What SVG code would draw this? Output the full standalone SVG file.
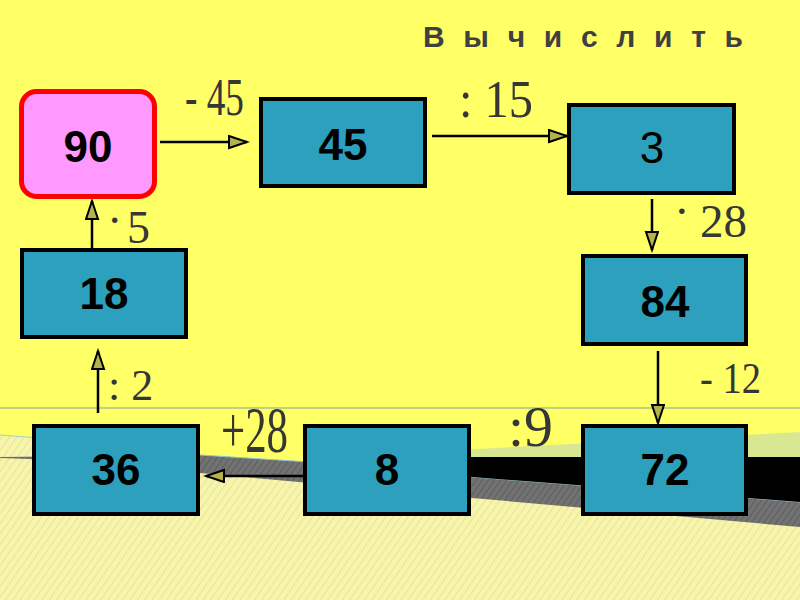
<svg xmlns="http://www.w3.org/2000/svg" width="800" height="600" viewBox="0 0 800 600">
<defs>
<pattern id="paleHatch" width="6" height="6" patternUnits="userSpaceOnUse" patternTransform="rotate(35)">
<rect width="6" height="6" fill="#F7F4AC"/>
<line x1="0" y1="0" x2="0" y2="6" stroke="#E6E29A" stroke-width="2"/>
</pattern>
<pattern id="grayHatch" width="5" height="5" patternUnits="userSpaceOnUse" patternTransform="rotate(35)">
<rect width="5" height="5" fill="#727272"/>
<line x1="0" y1="0" x2="0" y2="5" stroke="#5E5E5E" stroke-width="2"/>
</pattern>
<marker id="arr" markerUnits="userSpaceOnUse" markerWidth="22" markerHeight="16" refX="19" refY="7" orient="auto">
<path d="M1,1 L19,7 L1,13 Z" fill="#B4B24E" stroke="#000" stroke-width="2" stroke-linejoin="miter"/>
</marker>
<style>
.box rect{fill:#2DA0BE;stroke:#000;stroke-width:4}
.num{font-family:"Liberation Sans",Arial,sans-serif;font-weight:bold;font-size:44px;fill:#000;text-anchor:middle}
.lbl{font-family:"Liberation Serif","Times New Roman",serif;fill:#363636}
.con line{stroke:#000;stroke-width:2.5;marker-end:url(#arr)}
</style>
</defs>
<rect width="800" height="600" fill="#FFFF66"/>
<line x1="0" y1="408" x2="800" y2="408" stroke="#7FA89C" stroke-width="1.2"/>
<polygon points="0,435 40,438 200,460 800,510 800,600 0,600" fill="url(#paleHatch)"/>
<polyline points="0,435 40,438" fill="none" stroke="#A9CBC0" stroke-width="1"/>
<polygon points="0,457 200,455 310,462 472,477 800,502 800,527 472,498 310,483 200,473 30,459 0,458" fill="url(#grayHatch)"/>
<polyline points="200,455 310,462 472,477 800,502" fill="none" stroke="#8FC3D3" stroke-width="1"/>
<polygon points="440,457 800,457 800,502 472,477 440,475" fill="#000"/>
<polygon points="420,452 800,432 800,457 420,457" fill="#D8E892"/>
<text x="423" y="47" textLength="320" lengthAdjust="spacing" style="font-family:'Liberation Sans',Arial,sans-serif;font-weight:bold;font-size:30px;fill:#404040">В ы ч и с л и т ь</text>
<g id="connectors" class="con">
<line x1="160" y1="142" x2="247" y2="142"/>
<line x1="432" y1="136" x2="567" y2="136"/>
<line x1="652" y1="199" x2="652" y2="250"/>
<line x1="658" y1="351" x2="658" y2="423"/>
<line x1="303" y1="476" x2="206" y2="476"/>
<line x1="98" y1="413" x2="98" y2="351"/>
<line x1="92" y1="248" x2="92" y2="201"/>
</g>
<g id="labels">
<text class="lbl" x="185" y="115" font-size="52" textLength="59" lengthAdjust="spacingAndGlyphs">- 45</text>
<text class="lbl" x="459" y="117" font-size="52" textLength="74" lengthAdjust="spacingAndGlyphs">: 15</text>
<text class="lbl" font-size="47"><tspan x="674" y="227">·</tspan><tspan x="700" y="237">28</tspan></text>
<text class="lbl" x="700" y="393" font-size="44" textLength="61" lengthAdjust="spacingAndGlyphs">- 12</text>
<text class="lbl" x="508" y="446" font-size="56" textLength="45" lengthAdjust="spacingAndGlyphs">:9</text>
<text class="lbl" x="221" y="452" font-size="66" textLength="67" lengthAdjust="spacingAndGlyphs">+28</text>
<text class="lbl" x="108" y="400" font-size="44">: 2</text>
<text class="lbl" font-size="46"><tspan x="107" y="236">·</tspan><tspan x="127" y="243">5</tspan></text>
</g>
<g id="n90"><rect x="21.5" y="91.5" width="133" height="105" rx="15" fill="#FF99FF" stroke="#FF0000" stroke-width="5"/><text class="num" x="88" y="162">90</text></g>
<g id="n45" class="box"><rect x="261" y="99" width="164" height="87"/><text class="num" x="343" y="160">45</text></g>
<g id="n3" class="box"><rect x="569" y="105" width="165" height="88"/><text class="num" x="652" y="163" style="font-weight:normal">3</text></g>
<g id="n84" class="box"><rect x="583" y="256" width="163" height="88"/><text class="num" x="665" y="317">84</text></g>
<g id="n72" class="box"><rect x="583" y="426" width="163" height="88"/><text class="num" x="665" y="485">72</text></g>
<g id="n8" class="box"><rect x="305" y="426" width="164" height="88"/><text class="num" x="387" y="485">8</text></g>
<g id="n36" class="box"><rect x="34" y="426" width="164" height="88"/><text class="num" x="116" y="485">36</text></g>
<g id="n18" class="box"><rect x="22" y="250" width="164" height="87"/><text class="num" x="104" y="309">18</text></g>
</svg>
